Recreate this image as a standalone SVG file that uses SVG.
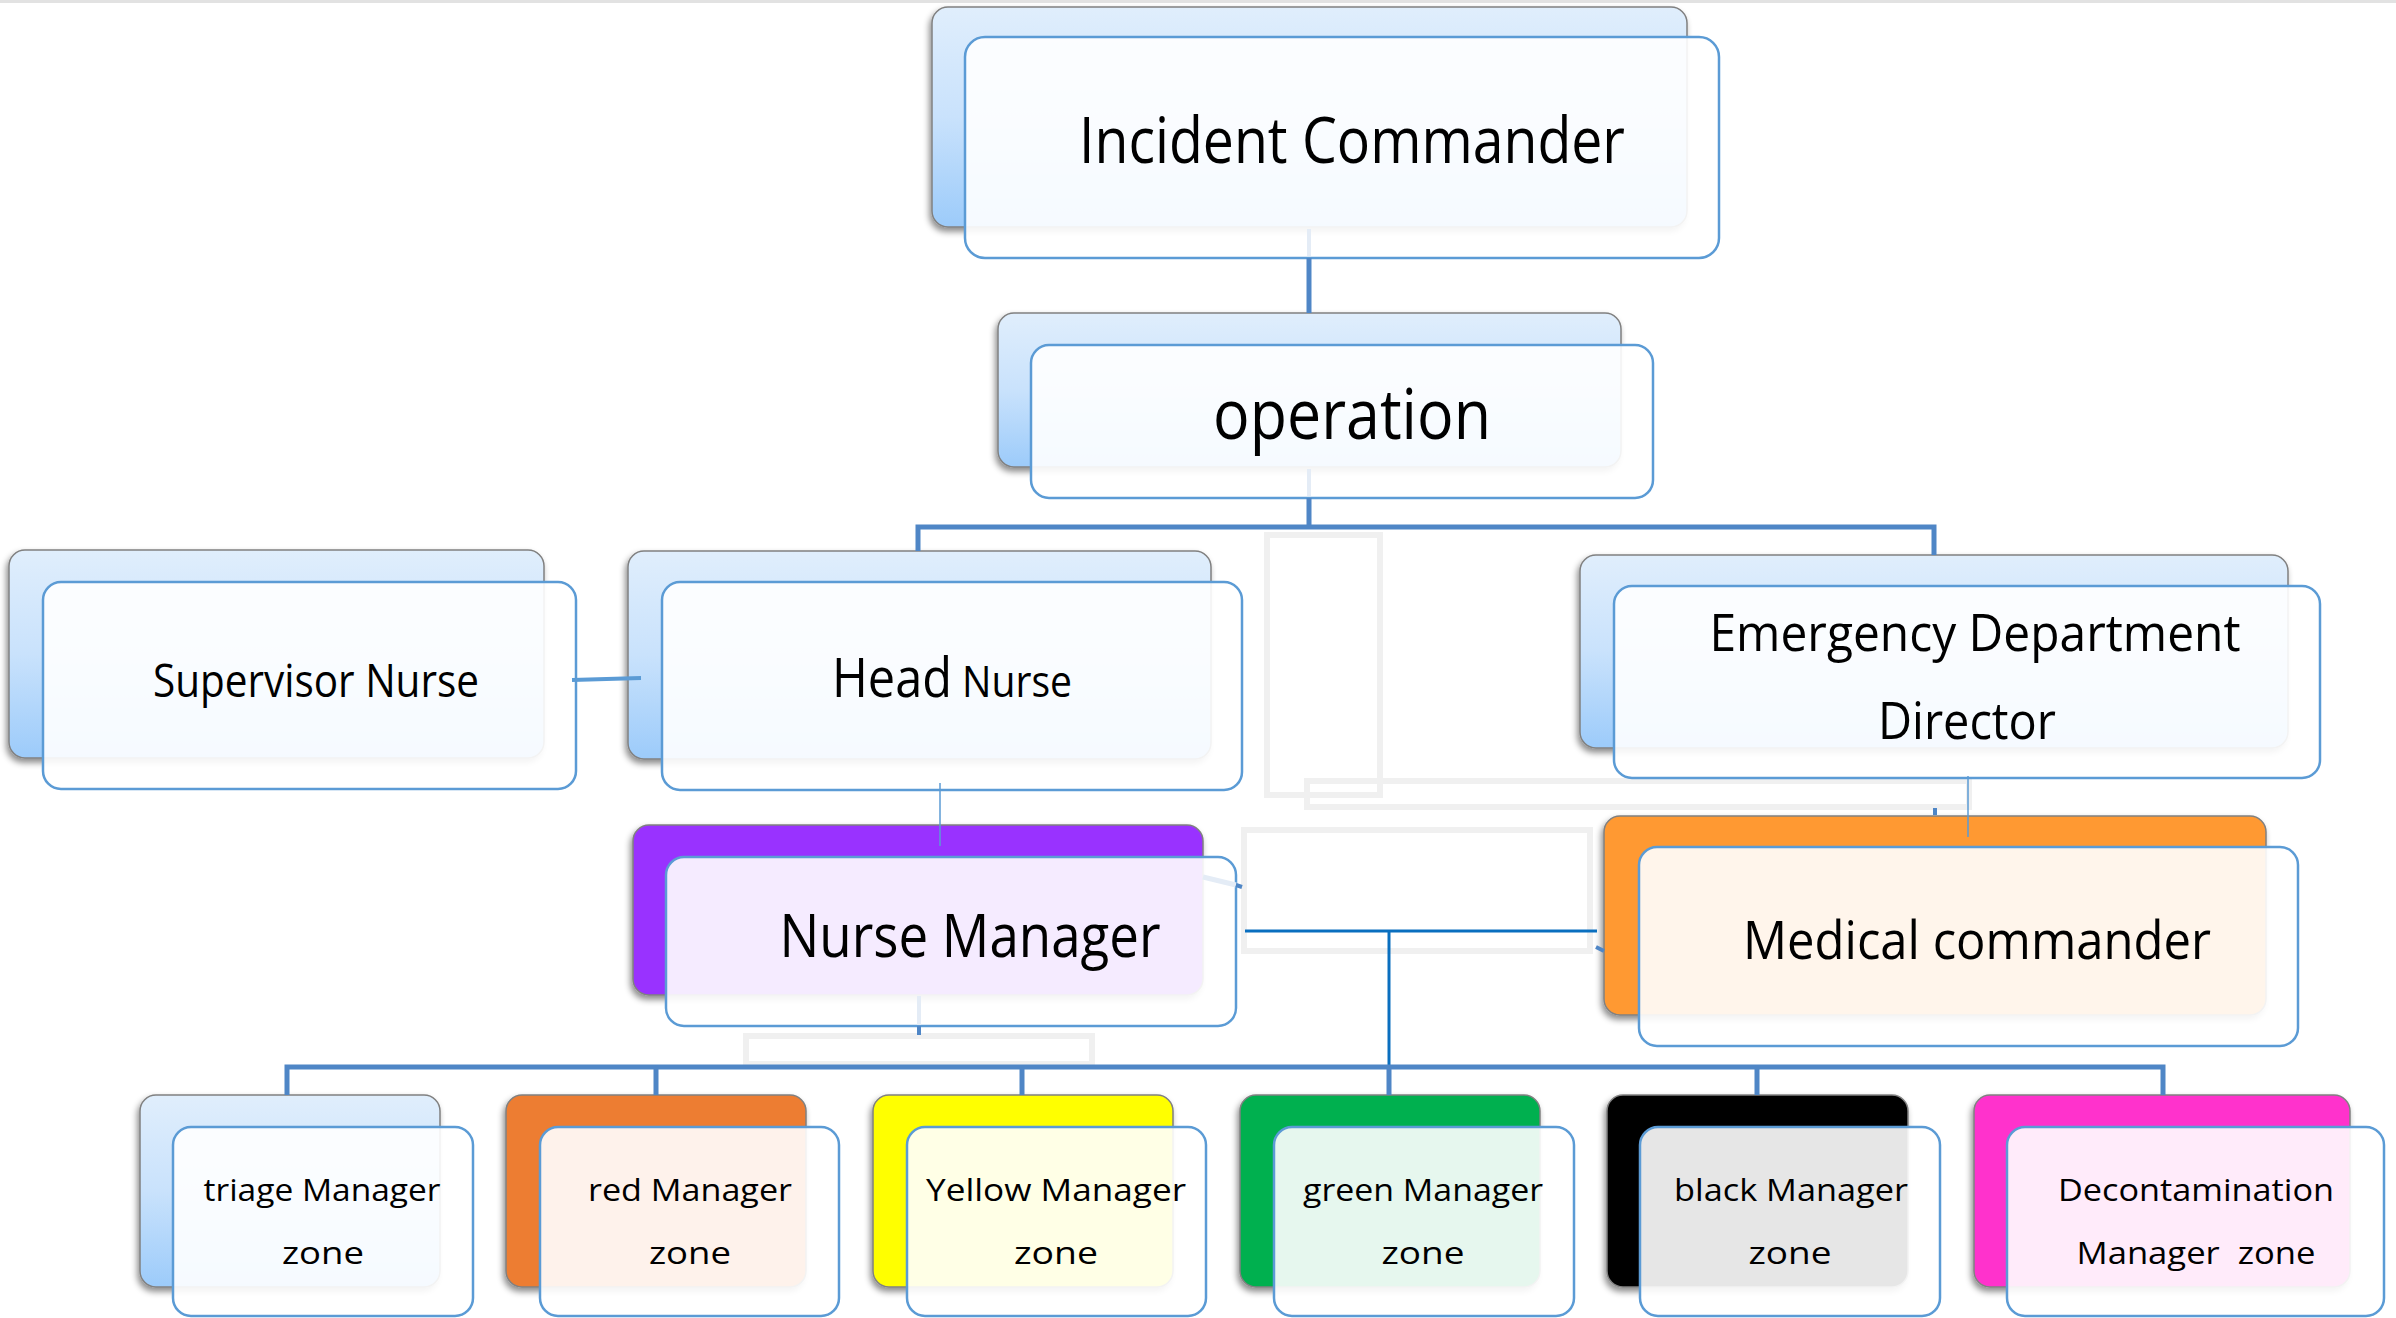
<svg xmlns="http://www.w3.org/2000/svg" width="2396" height="1318" viewBox="0 0 2396 1318">
<defs>
<linearGradient id="blueGrad" x1="0" y1="0" x2="0" y2="1">
<stop offset="0" stop-color="#e0eefc"/>
<stop offset="0.5" stop-color="#c9e2fc"/>
<stop offset="1" stop-color="#9ccbfa"/>
</linearGradient>
<filter id="shadow" x="-10%" y="-10%" width="120%" height="125%">
<feDropShadow dx="-2" dy="4" stdDeviation="3" flood-color="#000" flood-opacity="0.45"/>
</filter>
</defs>
<style>
.back{stroke:#808080;stroke-width:1.5;filter:url(#shadow)}
.blue{fill:url(#blueGrad)}
.front{fill:#ffffff;fill-opacity:0.9;stroke:#5b9bd5;stroke-width:2.5}
.lbl{font-family:"Open Sans","Noto Sans","Liberation Sans",sans-serif;fill:#000;text-anchor:middle}
.ghost{fill:none;stroke:#f0f0f0;stroke-width:6}
.c{fill:none;stroke:#4f86c6;stroke-width:5}
.cf{fill:none;stroke:#e4ecf6;stroke-width:4}
.cd{fill:none;stroke:#0a6fbf;stroke-width:3}
.ct{fill:none;stroke:#5b9bd5;stroke-width:1.5}
</style>
<rect x="0" y="0" width="2396" height="3" fill="#e2e2e2"/>
<g id="ghosts">
<rect class="ghost" x="1267" y="535" width="113" height="260"/>
<rect class="ghost" x="1307" y="781" width="662" height="26"/>
<rect class="ghost" x="1244" y="830" width="346" height="121"/>
<rect class="ghost" x="746" y="1036" width="346" height="28"/>
</g>
<g id="incident-commander">
<rect class="back blue" x="932" y="7" width="755" height="220" rx="16"/>
<rect class="front" x="965" y="37" width="754" height="221" rx="20"/>
<text class="lbl" x="1352" y="163" font-size="64" textLength="546" lengthAdjust="spacingAndGlyphs">Incident Commander</text>
</g>
<g id="operation">
<rect class="back blue" x="998" y="313" width="623" height="154" rx="16"/>
<rect class="front" x="1031" y="345" width="622" height="153" rx="18"/>
<text class="lbl" x="1352" y="439" font-size="70" textLength="278" lengthAdjust="spacingAndGlyphs">operation</text>
</g>
<g id="supervisor-nurse">
<rect class="back blue" x="9" y="550" width="535" height="208" rx="16"/>
<rect class="front" x="43" y="582" width="533" height="207" rx="18"/>
<text class="lbl" x="316" y="697" font-size="46" textLength="326" lengthAdjust="spacingAndGlyphs">Supervisor Nurse</text>
</g>
<g id="head-nurse">
<rect class="back blue" x="628" y="551" width="583" height="208" rx="16"/>
<rect class="front" x="662" y="582" width="580" height="208" rx="18"/>
<text class="lbl" y="697" style="text-anchor:start"><tspan x="832" font-size="54" textLength="120" lengthAdjust="spacingAndGlyphs">Head</tspan><tspan x="962" font-size="44" textLength="110" lengthAdjust="spacingAndGlyphs">Nurse</tspan></text>
</g>
<g id="ed-director">
<rect class="back blue" x="1580" y="555" width="708" height="193" rx="16"/>
<rect class="front" x="1614" y="586" width="706" height="192" rx="18"/>
<text class="lbl" x="1975" y="651" font-size="52" textLength="531" lengthAdjust="spacingAndGlyphs">Emergency Department</text>
<text class="lbl" x="1967" y="739" font-size="52" textLength="178" lengthAdjust="spacingAndGlyphs">Director</text>
</g>
<g id="nurse-manager">
<rect class="back" fill="#9933ff" x="633" y="825" width="570" height="170" rx="16"/>
<rect class="front" x="666" y="857" width="570" height="169" rx="18"/>
<text class="lbl" x="970" y="957" font-size="60" textLength="381" lengthAdjust="spacingAndGlyphs">Nurse Manager</text>
</g>
<g id="medical-commander">
<rect class="back" fill="#ff9933" x="1604" y="816" width="662" height="199" rx="16"/>
<rect class="front" x="1639" y="847" width="659" height="199" rx="18"/>
<text class="lbl" x="1977" y="959" font-size="53" textLength="468" lengthAdjust="spacingAndGlyphs">Medical commander</text>
</g>
<g id="triage-zone">
<rect class="back blue" x="140" y="1095" width="300" height="192" rx="16"/>
<rect class="front" x="173" y="1127" width="300" height="189" rx="18"/>
<text class="lbl" x="322" y="1201" font-size="31" textLength="237" lengthAdjust="spacingAndGlyphs">triage Manager</text>
<text class="lbl" x="323" y="1264" font-size="31" textLength="82" lengthAdjust="spacingAndGlyphs">zone</text>
</g>
<g id="red-zone">
<rect class="back" fill="#ed7d31" x="506" y="1095" width="300" height="192" rx="16"/>
<rect class="front" x="540" y="1127" width="299" height="189" rx="18"/>
<text class="lbl" x="690" y="1201" font-size="31" textLength="204" lengthAdjust="spacingAndGlyphs">red Manager</text>
<text class="lbl" x="690" y="1264" font-size="31" textLength="82" lengthAdjust="spacingAndGlyphs">zone</text>
</g>
<g id="yellow-zone">
<rect class="back" fill="#ffff00" x="873" y="1095" width="300" height="192" rx="16"/>
<rect class="front" x="907" y="1127" width="299" height="189" rx="18"/>
<text class="lbl" x="1056" y="1201" font-size="31" textLength="260" lengthAdjust="spacingAndGlyphs">Yellow Manager</text>
<text class="lbl" x="1056" y="1264" font-size="31" textLength="84" lengthAdjust="spacingAndGlyphs">zone</text>
</g>
<g id="green-zone">
<rect class="back" fill="#00b050" x="1240" y="1095" width="300" height="192" rx="16"/>
<rect class="front" x="1274" y="1127" width="300" height="189" rx="18"/>
<text class="lbl" x="1423" y="1201" font-size="31" textLength="240" lengthAdjust="spacingAndGlyphs">green Manager</text>
<text class="lbl" x="1423" y="1264" font-size="31" textLength="83" lengthAdjust="spacingAndGlyphs">zone</text>
</g>
<g id="black-zone">
<rect class="back" fill="#000000" x="1607" y="1095" width="301" height="192" rx="16"/>
<rect class="front" x="1640" y="1127" width="300" height="189" rx="18"/>
<text class="lbl" x="1791" y="1201" font-size="31" textLength="234" lengthAdjust="spacingAndGlyphs">black Manager</text>
<text class="lbl" x="1790" y="1264" font-size="31" textLength="83" lengthAdjust="spacingAndGlyphs">zone</text>
</g>
<g id="decontamination-zone">
<rect class="back" fill="#ff33cc" x="1974" y="1095" width="376" height="192" rx="16"/>
<rect class="front" x="2007" y="1127" width="377" height="189" rx="18"/>
<text class="lbl" x="2196" y="1201" font-size="31" textLength="276" lengthAdjust="spacingAndGlyphs">Decontamination</text>
<text class="lbl" x="2196" y="1264" font-size="31" textLength="239" lengthAdjust="spacingAndGlyphs" xml:space="preserve">Manager  zone</text>
</g>
<g id="connectors">
<path class="cf" d="M1309,229 V256"/>
<path class="c" d="M1309,258 V313"/>
<path class="cf" d="M1309,469 V496"/>
<path class="c" d="M1309,498 V527 M918,551 V527 H1934 V555"/>
<path class="c" style="stroke:#5b9bd5;stroke-width:4" d="M572,680 L641,678"/>
<path class="ct" d="M940,783 V846"/>
<path class="ct" d="M1968,776 V837"/>
<path class="c" style="stroke-width:4" d="M1935,808 V815"/>
<path class="cf" style="stroke-width:5" d="M1203,877 L1236,885"/>
<path class="c" style="stroke-width:4" d="M1236,885 L1242,887"/>
<path class="cd" d="M1245,931 H1597"/>
<path class="c" style="stroke-width:4" d="M1596,947 L1604,951"/>
<path class="cd" d="M1389,932 V1066"/>
<path class="cf" d="M919,996 V1025"/>
<path class="c" style="stroke-width:4" d="M919,1026 V1035"/>
<path class="c" d="M287,1095 V1067 H2163 V1095 M656,1067 V1095 M1022,1067 V1095 M1389,1067 V1095 M1757,1067 V1095"/>
</g>
</svg>
